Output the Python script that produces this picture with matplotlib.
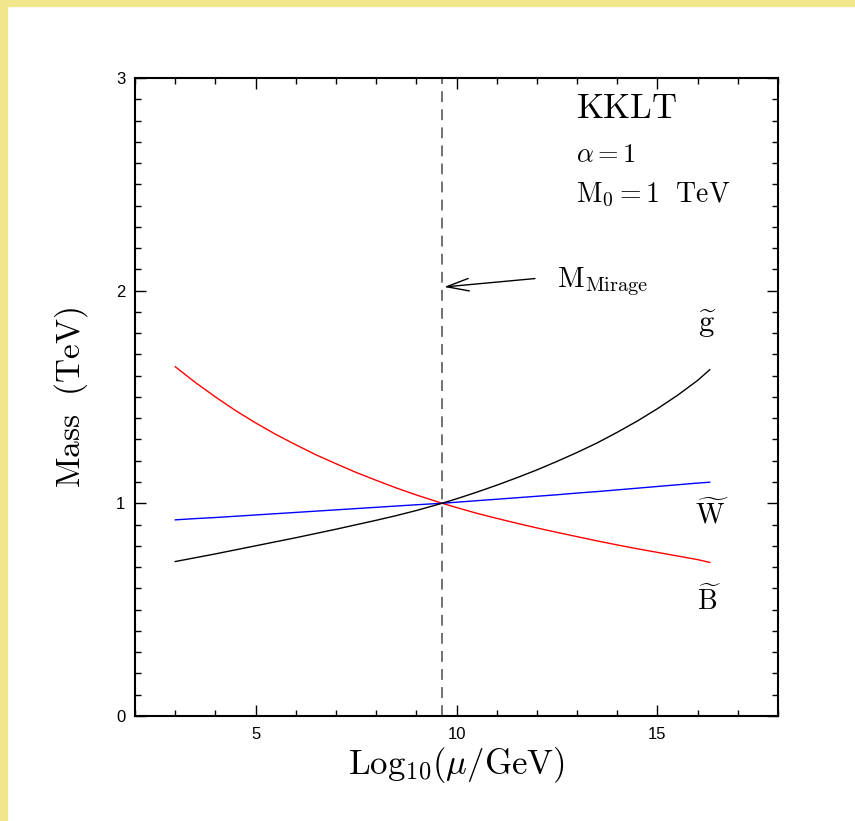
import matplotlib
matplotlib.use("Agg")
import matplotlib.pyplot as plt
from matplotlib.patches import Rectangle
from matplotlib.ticker import MultipleLocator

# scale log10(mu/GeV)
x = [3, 3.5, 4, 4.5, 5, 5.5, 6, 6.5, 7, 7.5, 8, 8.5, 9, 9.64, 10, 10.5, 11, 11.5,
     12, 12.5, 13, 13.5, 14, 14.5, 15, 15.5, 16, 16.3]
# gaugino masses (TeV)
m_bino = [1.642, 1.568, 1.500, 1.436, 1.378, 1.324, 1.275, 1.228, 1.186, 1.145, 1.108, 1.072, 1.039, 1.0,
          0.980, 0.953, 0.929, 0.906, 0.884, 0.863, 0.843, 0.823, 0.804, 0.786, 0.769, 0.752, 0.735, 0.722]
m_wino = [0.922, 0.928, 0.933, 0.939, 0.945, 0.951, 0.957, 0.963, 0.969, 0.975, 0.981, 0.987, 0.993, 1.0,
          1.005, 1.012, 1.019, 1.026, 1.033, 1.040, 1.048, 1.055, 1.063, 1.071, 1.079, 1.087, 1.095, 1.099]
m_gluino = [0.726, 0.744, 0.762, 0.781, 0.800, 0.819, 0.838, 0.858, 0.878, 0.899, 0.920, 0.942, 0.966, 1.0,
            1.021, 1.052, 1.085, 1.120, 1.157, 1.197, 1.239, 1.284, 1.334, 1.387, 1.445, 1.508, 1.578, 1.628]
mu_mirage = 9.64

plt.rcParams['mathtext.fontset'] = 'cm'
plt.rcParams['font.family'] = 'Liberation Sans'

fig = plt.figure(figsize=(8.55, 8.21), dpi=100)
ax = fig.add_axes([0.158, 0.128, 0.752, 0.777])

# yellow frame on left and top
fig.patches.append(Rectangle((0, 0), 7 / 855, 1, transform=fig.transFigure, color='#f0e68c', zorder=0))
fig.patches.append(Rectangle((0, 1 - 6 / 821), 1, 6 / 821, transform=fig.transFigure, color='#f0e68c', zorder=0))

ax.plot(x, m_bino, color='#ff0000', lw=1.0)
ax.plot(x, m_wino, color='#0000ff', lw=1.0)
ax.plot(x, m_gluino, color='black', lw=1.0)
vl = ax.axvline(mu_mirage, color='#666666', lw=1.3)
vl.set_dashes((6.0, 4.0))

ax.set_xlim(2, 18)
ax.set_ylim(0, 3)
ax.xaxis.set_major_locator(MultipleLocator(5))
ax.xaxis.set_minor_locator(MultipleLocator(1))
ax.yaxis.set_major_locator(MultipleLocator(1))
ax.yaxis.set_minor_locator(MultipleLocator(0.1))
ax.tick_params(which='both', direction='in', top=True, right=True, labelsize=12)
ax.tick_params(which='major', length=8, width=1.0)
ax.tick_params(which='minor', length=4, width=1.0)
ax.tick_params(axis='x', which='major', pad=8)
ax.tick_params(axis='y', which='major', pad=7)
for s in ax.spines.values():
    s.set_linewidth(1.5)

ax.set_xlabel(r'$\mathrm{Log}_{10}(\mu/\mathrm{GeV})$', fontsize=25, labelpad=2)
ax.set_ylabel(r'$\mathrm{Mass\ \ (TeV)}$', fontsize=24, labelpad=19)

ax.text(12.97, 2.812, r'$\mathrm{KKLT}$', fontsize=25, va='baseline', ha='left')
ax.text(12.97, 2.606, r'$\alpha = 1$', fontsize=19, va='baseline', ha='left')
ax.text(12.97, 2.417, r'$\mathrm{M}_0 = 1\ \ \mathrm{TeV}$', fontsize=20, va='baseline', ha='left')

ax.annotate('', xy=(9.62, 2.016), xytext=(12.02, 2.058),
            arrowprops=dict(arrowstyle='->,head_length=1.6,head_width=0.45', color='black', lw=1.0))
ax.text(12.5, 2.019, r'$\mathrm{M}_{\mathrm{Mirage}}$', fontsize=21, va='baseline', ha='left')

ax.text(16.25, 1.843, r'$\widetilde{\mathrm{g}}$', fontsize=22, va='center', ha='center')
ax.text(16.35, 0.906, r'$\widetilde{\mathrm{W}}$', fontsize=20, va='baseline', ha='center')
ax.text(16.3, 0.498, r'$\widetilde{\mathrm{B}}$', fontsize=20, va='baseline', ha='center')

fig.savefig('out.png', dpi=100)
